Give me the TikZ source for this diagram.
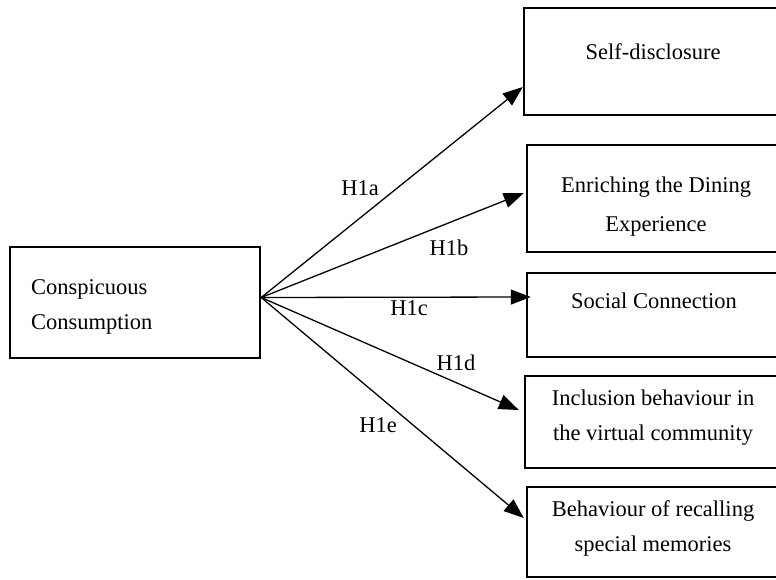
\documentclass[tikz,border=0pt]{standalone}
\usepackage{fontspec}
\setmainfont{Liberation Serif}
\usetikzlibrary{arrows.meta}
\begin{document}
\begin{tikzpicture}[x=1pt,y=-1pt]
	\tikzstyle{var}=[rectangle,draw=black,line width=2.4pt,inner sep=0pt]
	\tikzstyle{txt}=[font=\fontsize{22.5}{35}\selectfont,align=center,inner sep=0pt]
	\tikzstyle{lbl}=[font=\fontsize{22.5}{25}\selectfont,inner sep=0pt]
	\tikzstyle{edge}=[draw,line width=1.3pt,-{Triangle[length=20pt,width=15pt]}]
	\useasboundingbox (0,0) rectangle (776,580);
	\begin{scope}
		\node [var,minimum width=250pt,minimum height=111pt] (cc) at (135,302.5) {};
		\node [txt,align=left,anchor=west] (cc-t) at (31,307) {Conspicuous\\Consumption};
		\node [var,minimum width=258pt,minimum height=107pt] (sd) at (653,61.5) {};
		\node [txt] (sd-t) at (653,52) {Self-disclosure};
		\node [var,minimum width=255pt,minimum height=107pt] (ed) at (654.5,198.5) {};
		\node [txt,font=\fontsize{22.5}{39}\selectfont] (ed-t) at (656,207) {Enriching the Dining\\Experience};
		\node [var,minimum width=255pt,minimum height=84pt] (sc) at (654.5,315) {};
		\node [txt] (sc-t) at (654,301) {Social Connection};
		\node [var,minimum width=257pt,minimum height=92pt] (ib) at (653.5,422) {};
		\node [txt] (ib-t) at (653,418) {Inclusion behaviour in\\the virtual community};
		\node [var,minimum width=255pt,minimum height=90pt] (br) at (654.5,532) {};
		\node [txt] (br-t) at (653,528) {Behaviour of recalling\\special memories};
		\coordinate (src) at ([yshift=5pt]cc.east);
		\coordinate (ta) at ([yshift=-25.5pt]sd.west);
		\coordinate (tb) at ([xshift=-2pt,yshift=5.5pt]ed.west);
		\coordinate (tc) at ([xshift=5pt,yshift=18pt]sc.west);
		\coordinate (td) at ([xshift=-5pt,yshift=12pt]ib.west);
		\coordinate (te) at ([xshift=-2pt,yshift=14pt]br.west);
		\path[edge] (src) -- (ta);
		\path[edge] (src) -- (tb);
		\path[edge] (src) -- (tc);
		\path[edge] (src) -- (td);
		\path[edge] (src) -- (te);
		\node [lbl] (h1a) at (360,188) {H1a};
		\node [lbl] (h1b) at (449,248) {H1b};
		\node [lbl] (h1c) at (409,308) {H1c};
		\node [lbl] (h1d) at (456,363) {H1d};
		\node [lbl] (h1e) at (378,425) {H1e};
	\end{scope}
\end{tikzpicture}
\end{document}
